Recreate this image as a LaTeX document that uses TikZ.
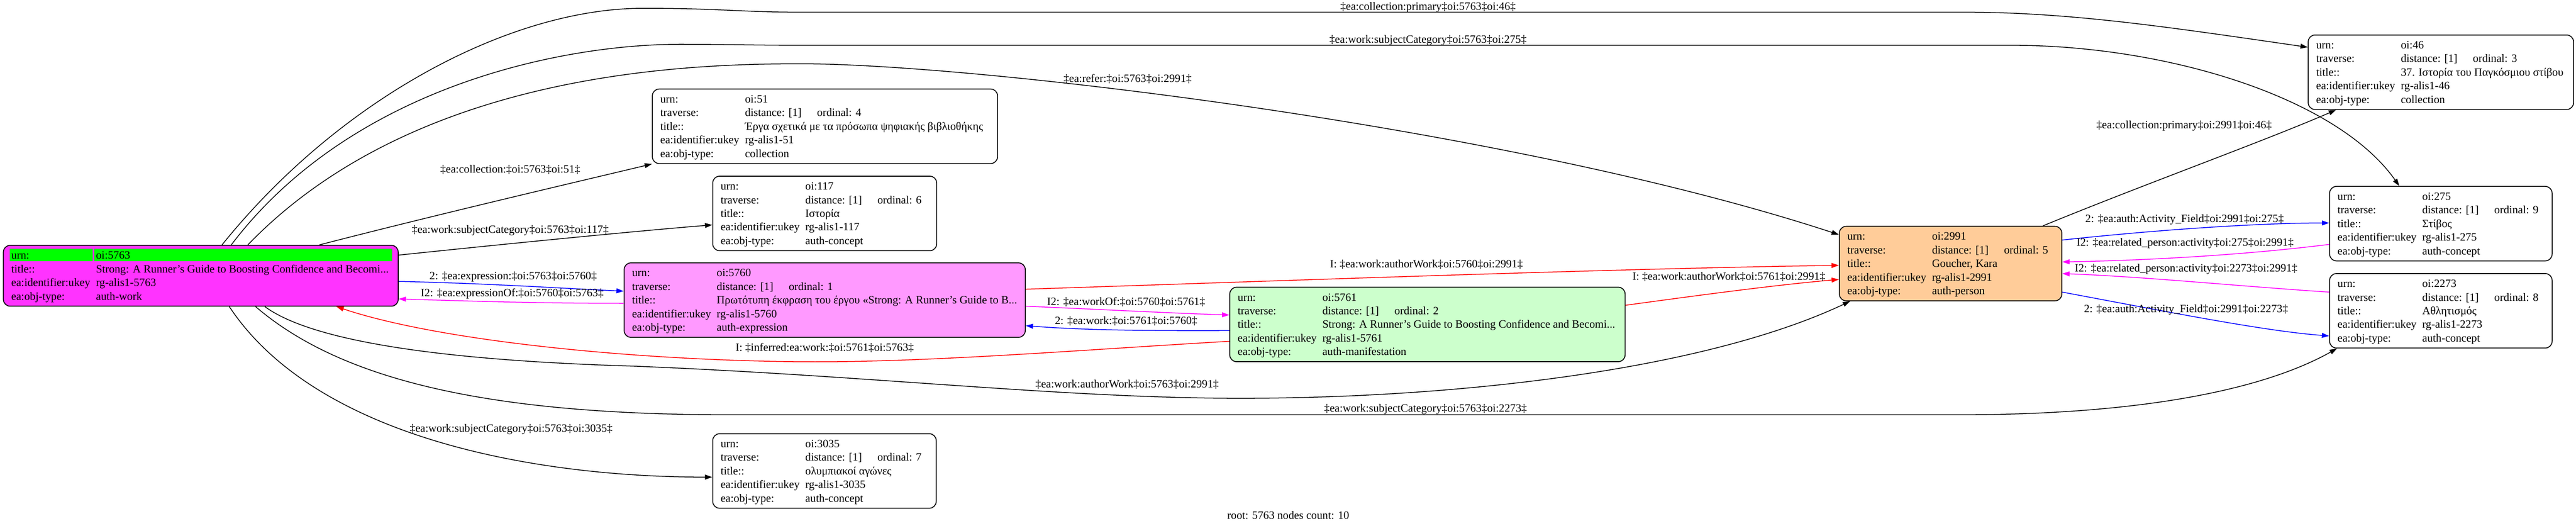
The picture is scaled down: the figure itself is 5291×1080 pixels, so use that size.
\documentclass[tikz,border=0pt]{standalone}
\usepackage{fontspec}
\setmainfont{Liberation Serif}
\usetikzlibrary{calc,arrows.meta}
\definecolor{cmag}{RGB}{255,51,255}
\definecolor{cpink}{RGB}{255,153,255}
\definecolor{cgreenl}{RGB}{204,255,204}
\definecolor{corange}{RGB}{255,204,153}
\definecolor{cgreen}{RGB}{0,255,0}
\definecolor{ered}{RGB}{255,0,0}
\definecolor{eblue}{RGB}{0,0,255}
\definecolor{emag}{RGB}{255,0,255}
\tikzset{
 card/.style={draw=black, line width=1.8pt, rounded corners=14pt, inner sep=0pt, anchor=north west, minimum height=153pt},
 txt/.style={anchor=base west, inner sep=0pt, font=\fontsize{23}{28}\selectfont},
 lbl/.style={anchor=center, inner sep=0pt, font=\fontsize{23}{28}\selectfont},
 edge/.style={line width=1.6pt, -{Triangle[length=15pt,width=10pt]}},
}
\newcommand\cardrow[4]{%
  \node[txt] (#1-l#2) at ($(#1.north west)+(17,{29+28*#2})$) {#3};
  \node[txt] (#1-v#2) at ($(#1.north west)+(191,{29+28*#2})$) {#4};}
\newcommand\cardord[2]{\node[txt] (#1-o) at ($(#1.north west)+(339,57)$) {ordinal: #2};}
\newcommand\stdcard[6]{%
  \cardrow{#1}{0}{urn:}{#2}
  \cardrow{#1}{1}{traverse:}{distance: [1]}
  \cardord{#1}{#3}
  \cardrow{#1}{2}{title::}{#4}
  \cardrow{#1}{3}{ea:identifier:ukey}{#5}
  \cardrow{#1}{4}{ea:obj-type:}{#6}}
\begin{document}
\begin{tikzpicture}[x=1pt,y=-1pt]
\useasboundingbox[fill=white] (0,0) rectangle (5291,1080);
% nodes
\node[card, fill=cmag, minimum width=811pt, minimum height=125pt] (n5763) at (6,503) {};
\fill[cgreen] ($(n5763.north west)+(14,8)$) rectangle ($(n5763.north west)+(185,33)$);
\fill[cgreen] ($(n5763.north west)+(188,8)$) rectangle ($(n5763.north west)+(799,33)$);
\cardrow{n5763}{0}{urn:}{oi:5763}
\cardrow{n5763}{1}{title::}{Strong: A Runner's Guide to Boosting Confidence and Becomi...}
\cardrow{n5763}{2}{ea:identifier:ukey}{rg-alis1-5763}
\cardrow{n5763}{3}{ea:obj-type:}{auth-work}

\node[card, minimum width=709pt] (n51) at (1339,182) {};
\stdcard{n51}{oi:51}{4}{Έργα σχετικά με τα πρόσωπα ψηφιακής βιβλιοθήκης}{rg-alis1-51}{collection}
\node[card, minimum width=460pt] (n117) at (1463,361) {};
\stdcard{n117}{oi:117}{6}{Ιστορία}{rg-alis1-117}{auth-concept}
\node[card, fill=cpink, minimum width=824pt] (n5760) at (1281,539) {};
\stdcard{n5760}{oi:5760}{1}{Πρωτότυπη έκφραση του έργου «Strong: A Runner's Guide to B...}{rg-alis1-5760}{auth-expression}
\node[card, minimum width=459pt] (n3035) at (1463,890) {};
\stdcard{n3035}{oi:3035}{7}{ολυμπιακοί αγώνες}{rg-alis1-3035}{auth-concept}
\node[card, fill=cgreenl, minimum width=812pt] (n5761) at (2525,589) {};
\stdcard{n5761}{oi:5761}{2}{Strong: A Runner's Guide to Boosting Confidence and Becomi...}{rg-alis1-5761}{auth-manifestation}
\node[card, fill=corange, minimum width=457pt] (n2991) at (3777,464) {};
\stdcard{n2991}{oi:2991}{5}{Goucher, Kara}{rg-alis1-2991}{auth-person}
\node[card, minimum width=545pt] (n46) at (4740,71) {};
\stdcard{n46}{oi:46}{3}{37. Ιστορία του Παγκόσμιου στίβου}{rg-alis1-46}{collection}
\node[card, minimum width=457pt] (n275) at (4784,382) {};
\stdcard{n275}{oi:275}{9}{Στίβος}{rg-alis1-275}{auth-concept}
\node[card, minimum width=457pt] (n2273) at (4784,561) {};
\stdcard{n2273}{oi:2273}{8}{Αθλητισμός}{rg-alis1-2273}{auth-concept}

% edges
\draw[edge] ($(n5763.north west)+(450,0)$) .. controls (700,200) and (1050,17) .. (1321,17) .. controls (1480,17) and (1520,25) .. (1645,25) -- (4032,25) .. controls (4250,25) and (4450,55) .. ($(n46.north west)+(0,26)$);
\draw[edge] ($(n5763.north west)+(469,0)$) .. controls (720,180) and (1150,91) .. (1396,91) .. controls (1500,91) and (1550,93) .. (1645,93) -- (4131,93) .. controls (4450,93) and (4800,200) .. ($(n275.north west)+(144,0)$);
\draw[edge] ($(n5763.north west)+(503,0)$) .. controls (850,150) and (1400,131) .. (1645,131) .. controls (2000,131) and (3100,260) .. ($(n2991.north west)+(0,18)$);
\draw[edge] ($(n5763.north west)+(650,0)$) .. controls (900,440) and (1200,370) .. (n51.south west);
\draw[edge] ($(n5763.north east)+(0,21)$) .. controls (1000,505) and (1300,475) .. ($(n117.north west)+(0,101)$);
\draw[edge, eblue] ($(n5763.north east)+(0,75)$) .. controls (1000,582) and (1150,592) .. ($(n5760.north west)+(0,59)$);
\draw[edge, emag] ($(n5760.north west)+(0,84)$) .. controls (1100,623) and (950,618) .. ($(n5763.north east)+(0,111)$);
\draw[edge, ered] ($(n5761.north west)+(0,112)$) .. controls (2200,720) and (1900,745) .. (1644,743) .. controls (1300,740) and (900,700) .. ($(n5763.south west)+(685,0)$);
\draw[edge] ($(n5763.south west)+(538,0)$) .. controls (640,700) and (900,740) .. (1300,752) .. controls (1800,772) and (2200,820) .. (2571,818) .. controls (3000,816) and (3500,760) .. ($(n2991.south west)+(23,0)$);
\draw[edge] ($(n5763.south west)+(519,0)$) .. controls (700,780) and (1000,852) .. (1500,852) -- (4022,852) .. controls (4400,852) and (4650,800) .. ($(n2273.south west)+(16,0)$);
\draw[edge] ($(n5763.south west)+(465,0)$) .. controls (650,900) and (1100,980) .. ($(n3035.north west)+(0,90)$);
\draw[edge, emag] ($(n5760.north east)+(0,90)$) .. controls (2250,635) and (2400,643) .. ($(n5761.north west)+(0,58)$);
\draw[edge, eblue] ($(n5761.north west)+(0,90)$) .. controls (2300,680) and (2200,676) .. ($(n5760.north east)+(0,130)$);
\draw[edge, ered] ($(n5760.north east)+(0,55)$) .. controls (2600,578) and (3300,552) .. ($(n2991.north west)+(0,81)$);
\draw[edge, ered] ($(n5761.north east)+(0,38)$) .. controls (3500,605) and (3650,585) .. ($(n2991.north west)+(0,110)$);
\draw[edge] ($(n2991.north east)+(-40,0)$) .. controls (4400,380) and (4650,290) .. ($(n46.south west)+(58,0)$);
\draw[edge, eblue] ($(n2991.north east)+(0,29)$) .. controls (4450,470) and (4650,458) .. ($(n275.north west)+(0,76)$);
\draw[edge, emag] ($(n275.north west)+(0,120)$) .. controls (4600,525) and (4400,535) .. ($(n2991.north east)+(0,74)$);
\draw[edge, emag] ($(n2273.north west)+(0,39)$) .. controls (4600,588) and (4400,568) .. ($(n2991.north east)+(0,98)$);
\draw[edge, eblue] ($(n2991.north east)+(0,136)$) .. controls (4450,640) and (4650,680) .. ($(n2273.north west)+(0,129)$);

% edge labels
\node[lbl] (l1) at (2933,15) {‡ea:collection:primary‡oi:5763‡oi:46‡};
\node[lbl] (l2) at (2933,83) {‡ea:work:subjectCategory‡oi:5763‡oi:275‡};
\node[lbl] (l3) at (2316,162) {‡ea:refer:‡oi:5763‡oi:2991‡};
\node[lbl] (l4) at (1048,348) {‡ea:collection:‡oi:5763‡oi:51‡};
\node[lbl] (l5) at (1048,473) {‡ea:work:subjectCategory‡oi:5763‡oi:117‡};
\node[lbl] (l6) at (1054,569) {2: ‡ea:expression:‡oi:5763‡oi:5760‡};
\node[lbl] (l7) at (1052,603) {I2: ‡ea:expressionOf:‡oi:5760‡oi:5763‡};
\node[lbl] (l8) at (2930,543) {I: ‡ea:work:authorWork‡oi:5760‡oi:2991‡};
\node[lbl] (l9) at (3551,568) {I: ‡ea:work:authorWork‡oi:5761‡oi:2991‡};
\node[lbl] (l10) at (2313,620) {I2: ‡ea:workOf:‡oi:5760‡oi:5761‡};
\node[lbl] (l11) at (2313,659) {2: ‡ea:work:‡oi:5761‡oi:5760‡};
\node[lbl] (l12) at (1694,714) {I: ‡inferred:ea:work:‡oi:5761‡oi:5763‡};
\node[lbl] (l13) at (2315,790) {‡ea:work:authorWork‡oi:5763‡oi:2991‡};
\node[lbl] (l14) at (2928,840) {‡ea:work:subjectCategory‡oi:5763‡oi:2273‡};
\node[lbl] (l15) at (1050,882) {‡ea:work:subjectCategory‡oi:5763‡oi:3035‡};
\node[lbl] (l16) at (4486,258) {‡ea:collection:primary‡oi:2991‡oi:46‡};
\node[lbl] (l17) at (4487,451) {2: ‡ea:auth:Activity\_Field‡oi:2991‡oi:275‡};
\node[lbl] (l18) at (4488,500) {I2: ‡ea:related\_person:activity‡oi:275‡oi:2991‡};
\node[lbl] (l19) at (4490,553) {I2: ‡ea:related\_person:activity‡oi:2273‡oi:2991‡};
\node[lbl] (l20) at (4490,636) {2: ‡ea:auth:Activity\_Field‡oi:2991‡oi:2273‡};
\node[lbl] (cap) at (2646,1058) {root: 5763 nodes count: 10};
\end{tikzpicture}
\end{document}
